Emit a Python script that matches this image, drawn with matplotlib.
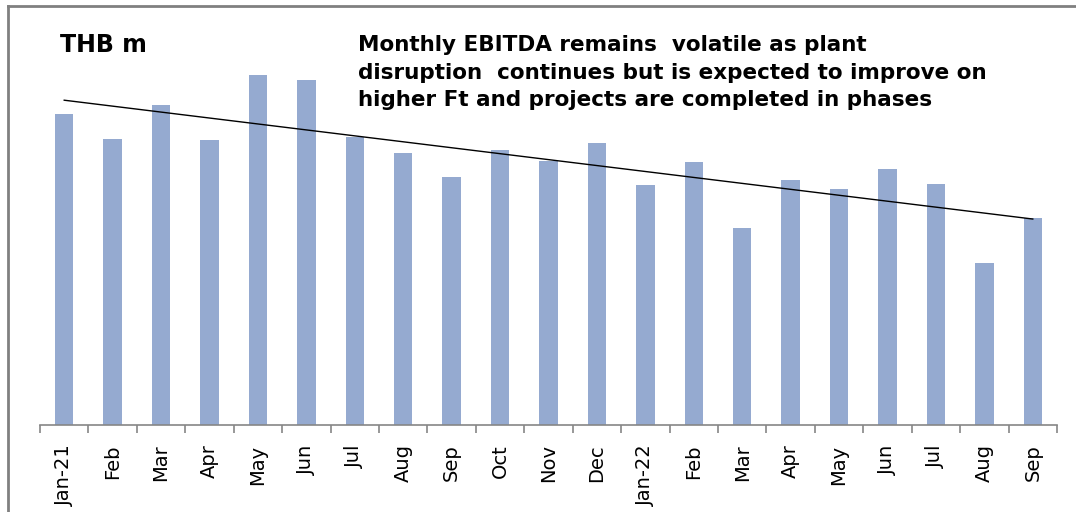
import matplotlib.pyplot as plt
import numpy as np

months = ['Jan-21', 'Feb', 'Mar', 'Apr', 'May', 'Jun', 'Jul', 'Aug', 'Sep', 'Oct',
          'Nov', 'Dec', 'Jan-22', 'Feb', 'Mar', 'Apr', 'May', 'Jun', 'Jul', 'Aug', 'Sep']
# EBITDA (THB m) - no value axis in the original, read as relative heights
ebitda = [311, 286, 320, 285, 350, 345, 288, 272, 248, 275,
          264, 282, 240, 263, 197, 245, 236, 256, 241, 162, 207]

note = ('Monthly EBITDA remains  volatile as plant\n'
        'disruption  continues but is expected to improve on\n'
        'higher Ft and projects are completed in phases')

bar_color = '#95AAD0'
axis_color = '#868686'

fig = plt.figure(figsize=(10.76, 5.12), dpi=100)
ax = fig.add_axes([40 / 1076, 87 / 512, 1017 / 1076, 400 / 512])

x = np.arange(len(months))
ax.bar(x, ebitda, width=0.38, color=bar_color, zorder=2)

# linear trend line (like excel)
slope, icpt = np.polyfit(x, ebitda, 1)
ax.plot(x, slope * x + icpt, color='black', lw=1.0, zorder=3)

ax.set_xlim(-0.5, len(months) - 0.5)
ax.set_ylim(0, 400)
ax.set_yticks([])
for s in ['left', 'right', 'top']:
    ax.spines[s].set_visible(False)
ax.spines['bottom'].set_color(axis_color)
ax.spines['bottom'].set_linewidth(1.2)

ax.set_xticks(x)
ax.set_xticklabels(months, rotation=90, fontsize=14, family='DejaVu Sans')
ax.tick_params(axis='x', which='major', length=0, pad=14)
ax.set_xticks(np.arange(-0.5, len(months)), minor=True)
ax.tick_params(axis='x', which='minor', length=6, color=axis_color, width=1.2)

fig.text(60 / 1076, 1 - 52 / 512, 'THB m', fontsize=17, fontweight='bold',
         family='DejaVu Sans', va='baseline')
fig.text(358 / 1076, 1 - 35 / 512, note, fontsize=15.5, fontweight='bold',
         family='DejaVu Sans', va='top', linespacing=1.47)

# grey frame around the pasted chart
fig.add_artist(plt.Line2D([8 / 1076, 8 / 1076], [0, 1 - 6 / 512], color='#808080', lw=2))
fig.add_artist(plt.Line2D([8 / 1076, 1], [1 - 6 / 512, 1 - 6 / 512], color='#808080', lw=2))

fig.savefig('out.png', dpi=100)
